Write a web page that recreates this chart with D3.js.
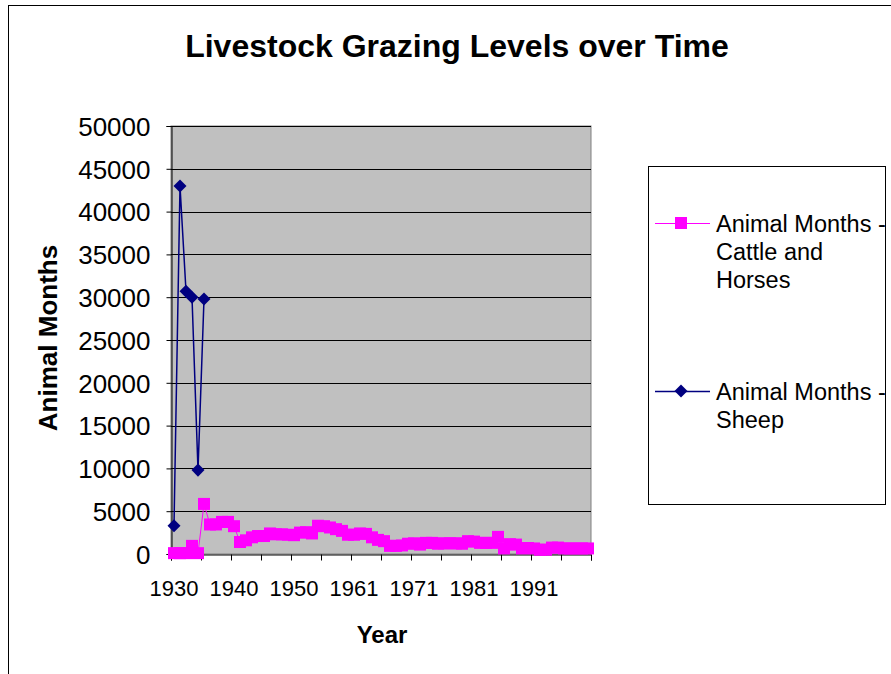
<!DOCTYPE html>
<html><head><meta charset="utf-8">
<script src="https://cdn.jsdelivr.net/npm/d3@7"></script>
<style>
html,body{margin:0;padding:0;background:#fff;}
svg text{font-family:"Liberation Sans",Arial,sans-serif;}
</style></head>
<body><svg id="c" width="891" height="674"></svg>
<script>
const title = "Livestock Grazing Levels over Time";
const yTitle = "Animal Months";
const xTitle = "Year";
const years = [1930,1931,1932,1933,1934,1935,1936,1937,1938,1939,
  1940,1941,1942,1943,1944,1945,1946,1947,1948,1949,
  1950,1951,1952,1953,1954,1955,1957,1958,1959,1960,
  1961,1962,1963,1964,1965,1966,1967,1968,1969,1970,
  1971,1972,1973,1974,1975,1976,1977,1978,1979,1980,
  1981,1982,1983,1984,1985,1986,1987,1988,1989,1990,
  1991,1992,1993,1994,1995,1996,1997,1998,1999,2000];
const cattle = [100,100,100,950,100,5850,3450,3450,3750,3750,
  3250,1400,1600,1950,2100,2100,2400,2300,2300,2250,
  2200,2500,2550,2400,3300,3250,3100,2900,2700,2250,
  2250,2400,2350,1950,1650,1500,950,950,1000,1200,
  1250,1100,1300,1300,1200,1250,1250,1250,1200,1500,
  1450,1300,1300,1300,2000,650,1150,1100,650,700,
  650,500,500,750,750,650,650,650,650,650];
const sheep = [3300,43000,30700,30000,9800,29800];
const seriesNames = ["Animal Months - Cattle and Horses","Animal Months - Sheep"];
const yTicks = [0,5000,10000,15000,20000,25000,30000,35000,40000,45000,50000];

const svg = d3.select("#c");
const L = 171, R = 591, T = 126, B = 554;

// chart border
svg.append("rect").attr("x",8.5).attr("y",5.5).attr("width",1000).attr("height",1000)
  .attr("fill","#fff").attr("stroke","#000").attr("stroke-width",1);

// title
svg.append("text").attr("x",457).attr("y",57).attr("text-anchor","middle")
  .attr("font-size",32).attr("font-weight","bold").text(title);

const x = d3.scaleBand().domain(years).range([L,R]).padding(0);
const xi = d3.scaleLinear().domain([0,years.length]).range([L,R]);
const y = d3.scaleLinear().domain([0,50000]).range([B,T]);
const cx = d => x(d) + x.bandwidth()/2;

// plot area
svg.append("rect").attr("x",L).attr("y",T).attr("width",R-L).attr("height",B-T)
  .attr("fill","#C0C0C0").attr("stroke","#808080").attr("stroke-width",1);

// gridlines
svg.append("g").selectAll("line").data(yTicks.filter(d=>d>0)).join("line")
  .attr("x1",L).attr("x2",R).attr("y1",d=>Math.round(y(d))+0.5).attr("y2",d=>Math.round(y(d))+0.5)
  .attr("stroke","#000").attr("stroke-width",1);

// y axis
const ya = svg.append("g").attr("transform",`translate(${L+0.5},0)`)
  .call(d3.axisLeft(y).tickValues(yTicks).tickSize(5).tickFormat(d3.format("d")));
ya.select(".domain").attr("stroke","#000");
ya.selectAll(".tick line").attr("stroke","#000");
ya.selectAll("text").attr("font-size",26).attr("fill","#000").attr("x",-21).attr("dy","0.36em")
  .style("font-family","'Liberation Sans',Arial,sans-serif");

// x axis tick marks (between categories every 5)
const xt = svg.append("g").attr("transform",`translate(0,${B+0.5})`)
  .call(d3.axisBottom(xi).tickValues(d3.range(0,years.length+1,5)).tickSize(6).tickFormat(""));
xt.select(".domain").attr("stroke","#000");
xt.selectAll(".tick line").attr("stroke","#000");

// x labels every 10 categories
const xl = svg.append("g").attr("transform",`translate(0,${B})`)
  .call(d3.axisBottom(x).tickValues(years.filter((d,i)=>i%10===0)).tickSize(0));
xl.select(".domain").remove();
xl.selectAll("text").attr("font-size",22).attr("fill","#000").attr("y",26).attr("dy","0.71em")
  .style("font-family","'Liberation Sans',Arial,sans-serif");

// axis titles
svg.append("text").attr("x",382).attr("y",643).attr("text-anchor","middle")
  .attr("font-size",24).attr("font-weight","bold").text(xTitle);
svg.append("text").attr("transform","translate(57,338) rotate(-90)").attr("text-anchor","middle")
  .attr("font-size",26).attr("font-weight","bold").text(yTitle);

// cattle series
const pink = "#FF00FF", navy = "#000080";
const line = d3.line().x((d,i)=>cx(years[i])).y(d=>y(d));
svg.append("path").datum(cattle).attr("d",line).attr("fill","none").attr("stroke",pink).attr("stroke-width",1);
svg.append("g").selectAll("rect").data(cattle).join("rect")
  .attr("x",(d,i)=>cx(years[i])-6).attr("y",d=>y(d)-6).attr("width",12).attr("height",12)
  .attr("fill",pink);

// sheep series
svg.append("path").datum(sheep).attr("d",line).attr("fill","none").attr("stroke",navy).attr("stroke-width",1.5);
svg.append("g").selectAll("path").data(sheep).join("path")
  .attr("transform",(d,i)=>`translate(${cx(years[i])},${y(d)}) rotate(45)`)
  .attr("d",d3.symbol().type(d3.symbolSquare).size(85)).attr("fill",navy);

// legend
const lg = svg.append("g");
lg.append("rect").attr("x",648.5).attr("y",166.5).attr("width",237).attr("height",338)
  .attr("fill","#fff").attr("stroke","#000").attr("stroke-width",1);
const entries = [
  {lines:["Animal Months -","Cattle and","Horses"], color:pink, ly:223, ty:232, marker:"square"},
  {lines:["Animal Months -","Sheep"], color:navy, ly:391, ty:400, marker:"diamond"}
];
entries.forEach(e=>{
  lg.append("line").attr("x1",655).attr("x2",710).attr("y1",e.ly+0.5).attr("y2",e.ly+0.5)
    .attr("stroke",e.color).attr("stroke-width",e.marker==="square"?1:1.5);
  if(e.marker==="square"){
    lg.append("rect").attr("x",681-6).attr("y",e.ly-6).attr("width",12).attr("height",12).attr("fill",e.color);
  } else {
    lg.append("path").attr("transform",`translate(681,${e.ly}) rotate(45)`)
      .attr("d",d3.symbol().type(d3.symbolSquare).size(85)).attr("fill",e.color);
  }
  e.lines.forEach((t,k)=>{
    lg.append("text").attr("x",716).attr("y",e.ty+k*28).attr("font-size",23.5).attr("fill","#000").text(t);
  });
});
</script></body></html>
